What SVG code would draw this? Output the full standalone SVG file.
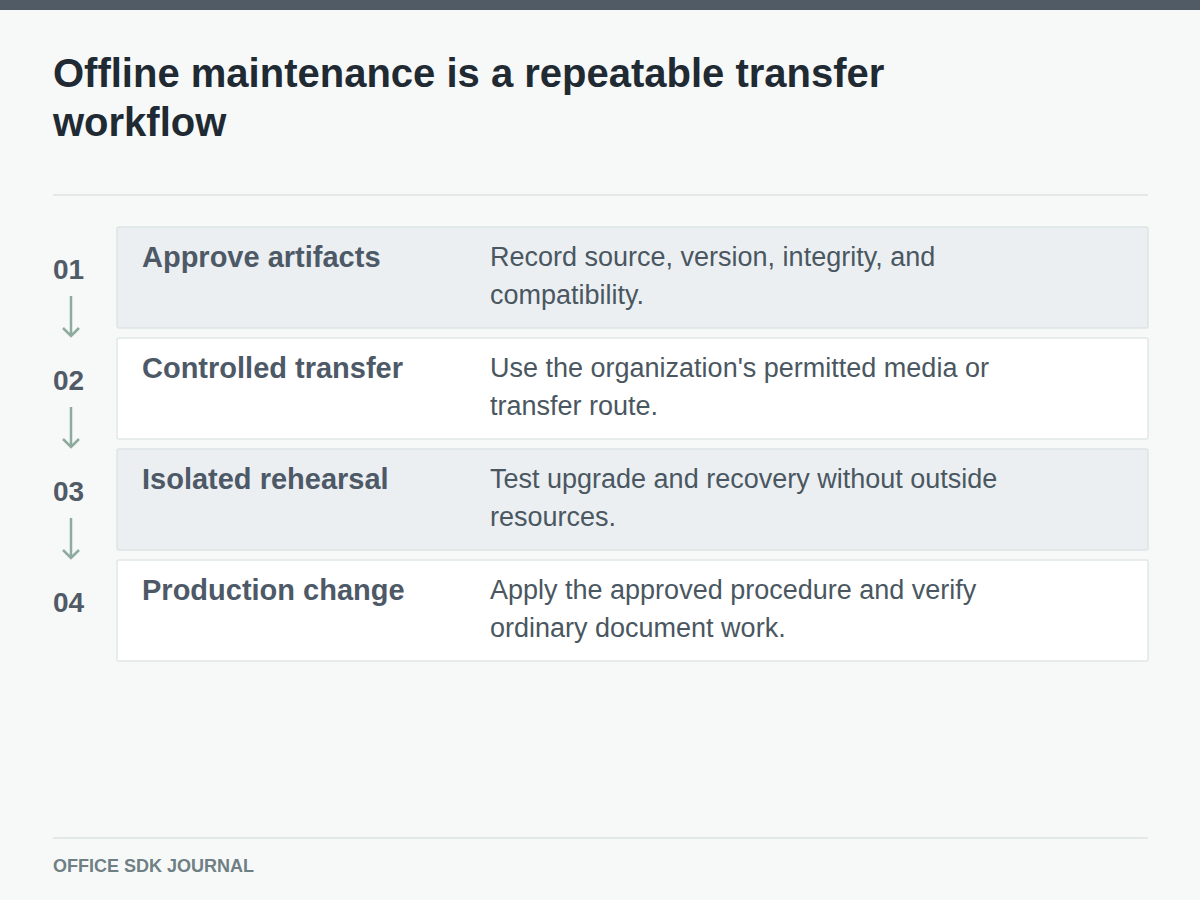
<svg xmlns="http://www.w3.org/2000/svg" width="1200" height="900" viewBox="0 0 1200 900">
<style>
.title{font-family:"Liberation Sans",Arial,sans-serif;font-weight:bold;font-size:40px;fill:#1f2a33}
.num{font-family:"Liberation Sans",Arial,sans-serif;font-weight:bold;font-size:28px;fill:#505b66}
.lbl{font-family:"Liberation Sans",Arial,sans-serif;font-weight:bold;font-size:29px;fill:#4d5966}
.desc{font-family:"Liberation Sans",Arial,sans-serif;font-size:27px;fill:#4a5761}
.foot{font-family:"Liberation Sans",Arial,sans-serif;font-weight:bold;font-size:18px;fill:#6f7f84}
.alt{fill:#ebeff2;stroke:#dde5e5;stroke-width:1.5}
.plain{fill:#ffffff;stroke:#e1e7e7;stroke-width:1.5}
.conn{stroke:#8fab9f;stroke-width:2.5;fill:none}
</style>
<rect width="1200" height="900" fill="#f7f9f9"/>
<rect width="1200" height="10" fill="#505b66"/>
<text class="title" x="53" y="87">Offline maintenance is a repeatable transfer</text>
<text class="title" x="53" y="136">workflow</text>
<line x1="53" y1="195" x2="1148" y2="195" stroke="#e3e8e8" stroke-width="2"/>

<g id="step1">
<rect class="alt" x="117" y="227" width="1031" height="101" rx="2"/>
<text class="num" x="53" y="279">01</text>
<text class="lbl" x="142" y="267">Approve artifacts</text>
<text class="desc" x="490" y="266">Record source, version, integrity, and</text>
<text class="desc" x="490" y="304">compatibility.</text>
</g>
<g id="step2">
<rect class="plain" x="117" y="338" width="1031" height="101" rx="2"/>
<text class="num" x="53" y="390">02</text>
<text class="lbl" x="142" y="378">Controlled transfer</text>
<text class="desc" x="490" y="377">Use the organization's permitted media or</text>
<text class="desc" x="490" y="415">transfer route.</text>
</g>
<g id="step3">
<rect class="alt" x="117" y="449" width="1031" height="101" rx="2"/>
<text class="num" x="53" y="501">03</text>
<text class="lbl" x="142" y="489">Isolated rehearsal</text>
<text class="desc" x="490" y="488">Test upgrade and recovery without outside</text>
<text class="desc" x="490" y="526">resources.</text>
</g>
<g id="step4">
<rect class="plain" x="117" y="560" width="1031" height="101" rx="2"/>
<text class="num" x="53" y="612">04</text>
<text class="lbl" x="142" y="600">Production change</text>
<text class="desc" x="490" y="599">Apply the approved procedure and verify</text>
<text class="desc" x="490" y="637">ordinary document work.</text>
</g>

<g id="connectors">
<path class="conn" d="M71 296 V336 M63 328 L71 336 L79 328"/>
<path class="conn" d="M71 407 V447 M63 439 L71 447 L79 439"/>
<path class="conn" d="M71 518 V558 M63 550 L71 558 L79 550"/>
</g>

<line x1="53" y1="838" x2="1148" y2="838" stroke="#e3e8e8" stroke-width="2"/>
<text class="foot" x="53" y="872">OFFICE SDK JOURNAL</text>
</svg>
